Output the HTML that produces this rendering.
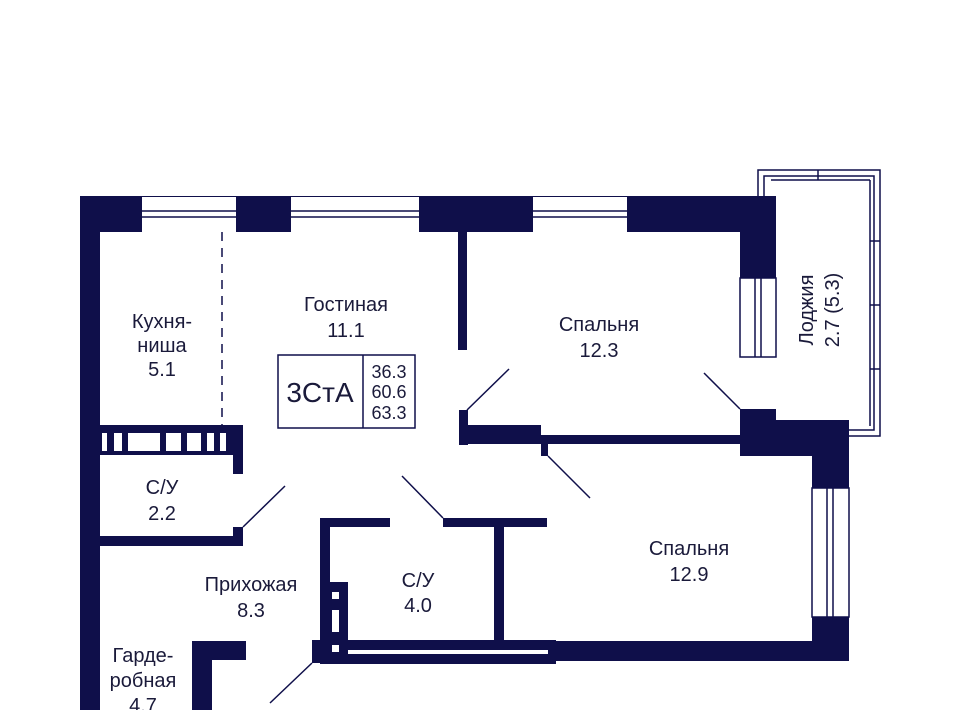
<!DOCTYPE html>
<html><head><meta charset="utf-8"><style>
html,body{margin:0;padding:0;background:#fff;}
svg{display:block;}
text{font-family:"Liberation Sans","DejaVu Sans",sans-serif;fill:#1a1a3a;font-size:20px;text-anchor:middle;}
</style></head><body>
<svg width="960" height="710" viewBox="0 0 960 710" xmlns="http://www.w3.org/2000/svg">
<g fill="#0f0f4a">
<rect x="80" y="196" width="696" height="36"/>
<rect x="80" y="196" width="20" height="514"/>
<rect x="740" y="196" width="36" height="82"/>
<rect x="458" y="232" width="9" height="118"/>
<rect x="459" y="410" width="9" height="35"/>
<rect x="459" y="425" width="82" height="19"/>
<rect x="541" y="435" width="200" height="9"/>
<rect x="541" y="435" width="7" height="21"/>
<rect x="740" y="409" width="36" height="47"/>
<rect x="776" y="420" width="73" height="36"/>
<rect x="812" y="420" width="37" height="68"/>
<rect x="812" y="617" width="37" height="44"/>
<rect x="548" y="641" width="301" height="20"/>
<rect x="100" y="425" width="143" height="30"/>
<rect x="233" y="425" width="10" height="49"/>
<rect x="100" y="536" width="143" height="10"/>
<rect x="233" y="527" width="10" height="19"/>
<rect x="320" y="518" width="10" height="145"/>
<rect x="320" y="518" width="70" height="9"/>
<rect x="443" y="518" width="104" height="9"/>
<rect x="494" y="527" width="10" height="113"/>
<rect x="330" y="582" width="18" height="60"/>
<rect x="312" y="640" width="18" height="23"/>
<rect x="320" y="640" width="236" height="24"/>
<rect x="192" y="641" width="20" height="69"/>
<rect x="192" y="641" width="54" height="19"/>
</g>
<g fill="#fff">
<rect x="142" y="197" width="94" height="35"/>
<rect x="291" y="197" width="128" height="35"/>
<rect x="533" y="197" width="94" height="35"/>
<rect x="740" y="278" width="36" height="79"/>
<rect x="812" y="488" width="37" height="129"/>
<rect x="102" y="433" width="5" height="18"/><rect x="114" y="433" width="8" height="18"/>
<rect x="128" y="433" width="32" height="18"/><rect x="166" y="433" width="15" height="18"/>
<rect x="187" y="433" width="14" height="18"/><rect x="207" y="433" width="7" height="18"/>
<rect x="220" y="433" width="6" height="18"/>
<rect x="332" y="592" width="7" height="7"/><rect x="332" y="610" width="7" height="22"/>
<rect x="332" y="645" width="7" height="7"/>
<rect x="348" y="650" width="200" height="4"/>
</g>
<g stroke="#0f0f4a" stroke-width="1.5" fill="none">
<line x1="142" y1="211" x2="236" y2="211"/><line x1="142" y1="217" x2="236" y2="217"/>
<line x1="291" y1="211" x2="419" y2="211"/><line x1="291" y1="217" x2="419" y2="217"/>
<line x1="533" y1="211" x2="627" y2="211"/><line x1="533" y1="217" x2="627" y2="217"/>
<rect x="740" y="278" width="36" height="79"/>
<line x1="755" y1="278" x2="755" y2="357"/><line x1="761" y1="278" x2="761" y2="357"/>
<rect x="812" y="488" width="37" height="129"/>
<line x1="827" y1="488" x2="827" y2="617"/><line x1="833" y1="488" x2="833" y2="617"/>
<polyline points="758,196 758,170 880,170 880,436 848,436"/>
<polyline points="764,196 764,176 874,176 874,430 848,430"/>
<line x1="771" y1="180" x2="870" y2="180"/>
<line x1="870" y1="180" x2="870" y2="426"/>
<line x1="870" y1="241" x2="880" y2="241"/><line x1="870" y1="305" x2="880" y2="305"/>
<line x1="870" y1="369" x2="880" y2="369"/><line x1="818" y1="170" x2="818" y2="180"/>
<line x1="467" y1="410" x2="509" y2="369"/>
<line x1="704" y1="373" x2="740" y2="409"/>
<line x1="548" y1="456" x2="590" y2="498"/>
<line x1="243" y1="527" x2="285" y2="486"/>
<line x1="443" y1="518" x2="402" y2="476"/>
<line x1="312" y1="663" x2="270" y2="703"/>
<line x1="222" y1="232" x2="222" y2="425" stroke-dasharray="9,7"/>
<rect x="278" y="355" width="137" height="73"/>
<line x1="363" y1="355" x2="363" y2="428"/>
</g>
<text x="162" y="328">Кухня-</text>
<text x="162" y="352">ниша</text>
<text x="162" y="376">5.1</text>
<text x="346" y="311">Гостиная</text>
<text x="346" y="337">11.1</text>
<text x="599" y="331">Спальня</text>
<text x="599" y="357">12.3</text>
<text transform="translate(813,310) rotate(-90)">Лоджия</text>
<text transform="translate(839,310) rotate(-90)">2.7 (5.3)</text>
<text x="162" y="494">С/У</text>
<text x="162" y="520">2.2</text>
<text x="251" y="591">Прихожая</text>
<text x="251" y="617">8.3</text>
<text x="418" y="587">С/У</text>
<text x="418" y="612">4.0</text>
<text x="689" y="555">Спальня</text>
<text x="689" y="581">12.9</text>
<text x="143" y="662">Гарде-</text>
<text x="143" y="687">робная</text>
<text x="143" y="712">4.7</text>
<text x="320" y="402" style="font-size:28px">3СтА</text>
<text x="389" y="378" style="font-size:18px">36.3</text>
<text x="389" y="398" style="font-size:18px">60.6</text>
<text x="389" y="419" style="font-size:18px">63.3</text>
</svg>
</body></html>
